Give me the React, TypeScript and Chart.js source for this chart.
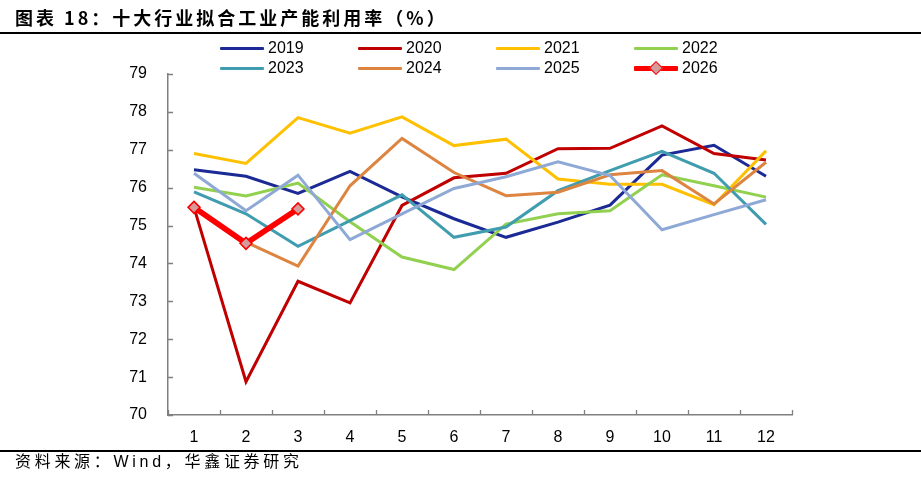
import React, { useEffect, useRef } from "react";
import { Chart, registerables } from "chart.js";

Chart.register(...registerables);

const months = ["1", "2", "3", "4", "5", "6", "7", "8", "9", "10", "11", "12"];
const seriesNames = ["2019", "2020", "2021", "2022", "2023", "2024", "2025", "2026"];
const s2019 = [76.47, 76.3, 75.85, 76.43, 75.76, 75.18, 74.69, 75.09, 75.54, 76.86, 77.12, 76.3];
const s2020 = [75.48, 70.88, 73.53, 72.96, 75.53, 76.26, 76.38, 77.03, 77.04, 77.63, 76.9, 76.73];
const s2021 = [76.9, 76.64, 77.85, 77.44, 77.87, 77.11, 77.28, 76.23, 76.09, 76.09, 75.55, 76.97];
const s2022 = [76.01, 75.78, 76.12, 75.1, 74.17, 73.84, 75.04, 75.31, 75.39, 76.34, 76.05, 75.75];
const s2023 = [75.89, 75.31, 74.45, 75.13, 75.81, 74.69, 74.96, 75.92, 76.45, 76.96, 76.38, 75.03];
const s2024 = [75.5, 74.56, 73.93, 76.05, 77.3, 76.4, 75.79, 75.88, 76.34, 76.45, 75.57, 76.67];
const s2025 = [76.38, 75.39, 76.33, 74.63, 75.31, 75.98, 76.29, 76.68, 76.32, 74.89, 75.29, 75.68];
const s2026 = [75.48, 74.53, 75.44];
const yTicks = [70, 71, 72, 73, 74, 75, 76, 77, 78, 79];

const allSeries = [s2019, s2020, s2021, s2022, s2023, s2024, s2025, s2026];
const colors = ["#1B2A94", "#C00000", "#FFC000", "#92D050", "#409CAF", "#DD8540", "#8EA9D5", "#FF0000"];

const FONT = "'Liberation Sans', Arial, sans-serif";

const tickPlugin = {
  id: "innerTicks",
  afterDraw(chart: any) {
    const ctx = chart.ctx;
    const x = chart.scales.x;
    const y = chart.scales.y;
    const area = chart.chartArea;
    ctx.save();
    ctx.strokeStyle = "#808080";
    ctx.lineWidth = 1.3;
    ctx.beginPath();
    yTicks.forEach((v) => {
      const py = Math.round(y.getPixelForValue(v)) + 0.5;
      ctx.moveTo(area.left, py);
      ctx.lineTo(area.left + 5, py);
    });
    for (let i = 0; i <= months.length; i++) {
      let px;
      if (i === 0) px = area.left;
      else if (i === months.length) px = area.right;
      else px = (x.getPixelForValue(i - 1) + x.getPixelForValue(i)) / 2;
      px = Math.round(px) + 0.5;
      ctx.moveTo(px, area.bottom);
      ctx.lineTo(px, area.bottom - 5);
    }
    ctx.stroke();
    ctx.restore();
  },
};

function LegendItem({ name, color, left, top, marker }: any) {
  return (
    <div style={{ position: "absolute", left, top, height: 20, display: "flex", alignItems: "center" }}>
      <div style={{ position: "relative", width: 44, height: 20 }}>
        <div
          style={{
            position: "absolute",
            left: 0,
            top: marker ? 7.5 : 8.5,
            width: 44,
            height: marker ? 5 : 3,
            background: color,
            borderRadius: 1,
          }}
        />
        {marker && (
          <div
            style={{
              position: "absolute",
              left: 17,
              top: 5,
              width: 8,
              height: 8,
              background: "#D59A9A",
              border: "1.5px solid #FF0000",
              transform: "rotate(45deg)",
            }}
          />
        )}
      </div>
      <span style={{ marginLeft: 4, fontFamily: FONT, fontSize: 16, color: "#000" }}>{name}</span>
    </div>
  );
}

export default function App() {
  const ref = useRef<HTMLCanvasElement>(null);
  useEffect(() => {
    if (!ref.current) return;
    const chart = new Chart(ref.current, {
      type: "line",
      data: {
        labels: months,
        datasets: allSeries.map((d, i) => {
          const is2026 = i === 7;
          return {
            label: seriesNames[i],
            data: d,
            borderColor: colors[i],
            backgroundColor: colors[i],
            borderWidth: is2026 ? 5.5 : 3,
            tension: 0,
            order: 8 - i,
            pointStyle: "rectRot",
            pointRadius: is2026 ? 6 : 0,
            pointHoverRadius: is2026 ? 6 : 0,
            pointBackgroundColor: is2026 ? "#D59A9A" : colors[i],
            pointBorderColor: colors[i],
            pointBorderWidth: 1.5,
          } as any;
        }),
      },
      options: {
        animation: false,
        responsive: true,
        maintainAspectRatio: false,
        layout: { padding: { left: 100, top: 74, right: 129, bottom: 0 } },
        plugins: { legend: { display: false }, tooltip: { enabled: false }, title: { display: false } },
        scales: {
          x: {
            type: "category",
            offset: true,
            grid: { display: false },
            border: { display: true, color: "#808080", width: 1.5 },
            ticks: { color: "#000", font: { family: FONT, size: 16 }, padding: 5, maxRotation: 0, autoSkip: false },
            afterFit: (s: any) => {
              s.height = 64;
            },
          },
          y: {
            min: 70,
            max: 79,
            grid: { display: false },
            border: { display: true, color: "#808080", width: 1.5 },
            ticks: { stepSize: 1, color: "#000", font: { family: FONT, size: 16 }, padding: 13 },
            afterFit: (s: any) => {
              s.width = 68;
            },
          },
        },
      },
      plugins: [tickPlugin],
    });
    return () => chart.destroy();
  }, []);

  const colLeft = [220, 358, 496, 634];
  const rowTop = [38, 58];

  return (
    <div style={{ position: "fixed", left: 0, top: 0, width: 921, height: 479, background: "#fff", overflow: "hidden" }}>
      <div style={{ position: "absolute", left: 0, top: 0, width: 921, height: 479 }}>
        <canvas ref={ref} />
      </div>
      <div
        style={{
          position: "absolute",
          left: 15,
          top: 5,
          fontFamily: "'Noto Sans CJK SC', sans-serif",
          fontWeight: 700,
          fontSize: 18,
          letterSpacing: 3,
          color: "#000",
          whiteSpace: "nowrap",
          lineHeight: "24px",
        }}
      >
        图表 18：十大行业拟合工业产能利用率（%）
      </div>
      <div style={{ position: "absolute", left: 0, top: 32, width: 921, height: 1.5, background: "#000" }} />
      {seriesNames.map((n, i) => (
        <LegendItem
          key={n}
          name={n}
          color={colors[i]}
          left={colLeft[i % 4]}
          top={rowTop[Math.floor(i / 4)]}
          marker={i === 7}
        />
      ))}
      <div style={{ position: "absolute", left: 0, top: 450, width: 921, height: 1.5, background: "#000" }} />
      <div
        style={{
          position: "absolute",
          left: 15,
          top: 450,
          fontFamily: "'Noto Sans CJK SC', sans-serif",
          fontSize: 16,
          letterSpacing: 3.7,
          color: "#000",
          whiteSpace: "nowrap",
          lineHeight: "20px",
        }}
      >
        资料来源：<span style={{ fontFamily: FONT }}>Wind</span>，华鑫证券研究
      </div>
    </div>
  );
}
